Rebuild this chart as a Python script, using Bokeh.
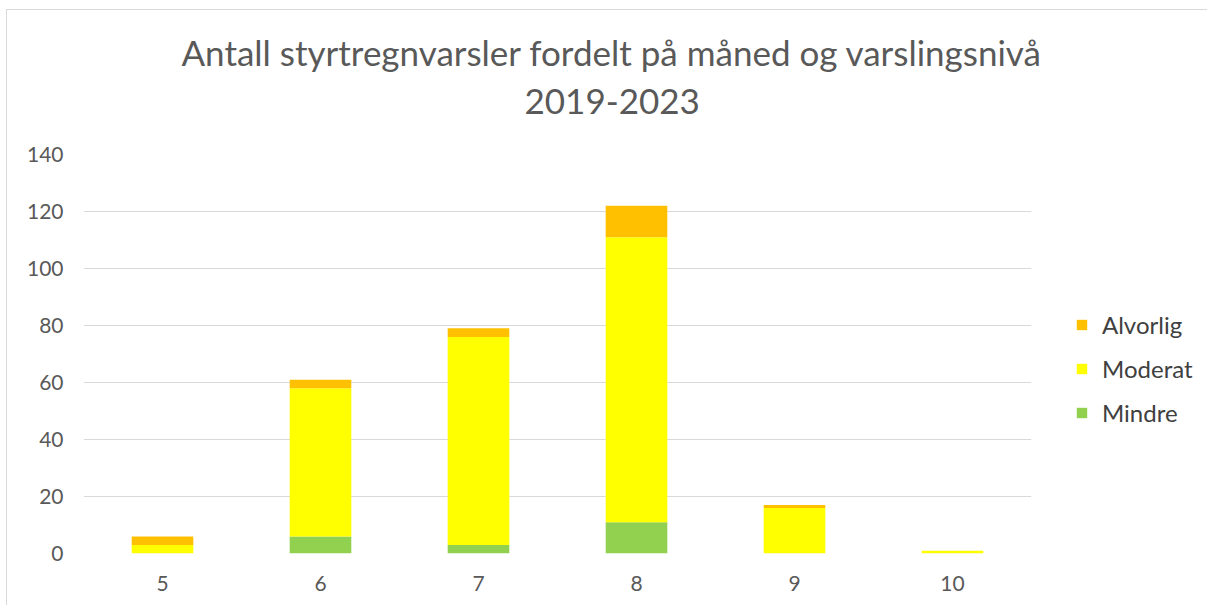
from bokeh.plotting import figure
from bokeh.models import Range1d, FactorRange, Legend, LegendItem, Title
from bokeh.embed import file_html
from bokeh.resources import INLINE

months = ["5", "6", "7", "8", "9", "10"]
mindre = [0, 6, 3, 11, 0, 0]
moderat = [3, 52, 73, 100, 16, 1]
alvorlig = [3, 3, 3, 11, 1, 0]
levels = ["Mindre", "Moderat", "Alvorlig"]
colors = ["#92D050", "#FFFF00", "#FFC000"]
title_lines = ["Antall styrtregnvarsler fordelt på måned og varslingsnivå", "2019-2023"]

FONT = "Lato"
TXT = "#595959"

data = dict(month=months, Mindre=mindre, Moderat=moderat, Alvorlig=alvorlig)

p = figure(x_range=FactorRange(*months, range_padding=0), y_range=Range1d(0, 140),
           frame_width=948, frame_height=399, output_backend="svg", toolbar_location=None,
           min_border_left=76, min_border_right=171, min_border_bottom=52, min_border_top=144)
p.title = None

renderers = p.vbar_stack(levels, x="month", width=0.39, source=data,
                         color=colors, line_width=0)

for line_text, standoff, off in [(title_lines[1], 82, 441), (title_lines[0], -54, 98)]:
    t = Title(text=line_text, align="left", text_font=FONT, text_font_size="35px",
              text_color=TXT, text_font_style="normal", standoff=standoff, offset=off)
    p.add_layout(t, "above")

items = [LegendItem(label=lab, renderers=[r]) for lab, r in zip(levels, renderers)][::-1]
legend = Legend(items=items, location=(44, 126), glyph_width=13, glyph_height=13,
                label_text_font=FONT, label_text_font_size="24px", label_text_color="#404040",
                label_standoff=14, spacing=15, padding=0, margin=0,
                border_line_color=None, background_fill_alpha=0)
p.add_layout(legend, "right")

p.outline_line_color = None
p.xgrid.grid_line_color = None
p.ygrid.grid_line_color = "#D9D9D9"
p.ygrid.grid_line_width = 1
p.yaxis.ticker = [0, 20, 40, 60, 80, 100, 120, 140]

for ax in (p.xaxis, p.yaxis):
    ax.axis_line_color = None
    ax.major_tick_line_color = None
    ax.minor_tick_line_color = None
    ax.major_tick_out = 0
    ax.major_tick_in = 0
    ax.major_label_text_font = FONT
    ax.major_label_text_font_size = "21px"
    ax.major_label_text_color = TXT
p.yaxis.major_label_standoff = 20
p.xaxis.major_label_standoff = 22

p.styles = {"margin-top": "9px", "margin-left": "6px",
            "border-top": "1px solid #D9D9D9", "border-left": "1px solid #D9D9D9"}

open("out.html", "w").write(file_html(p, INLINE))
